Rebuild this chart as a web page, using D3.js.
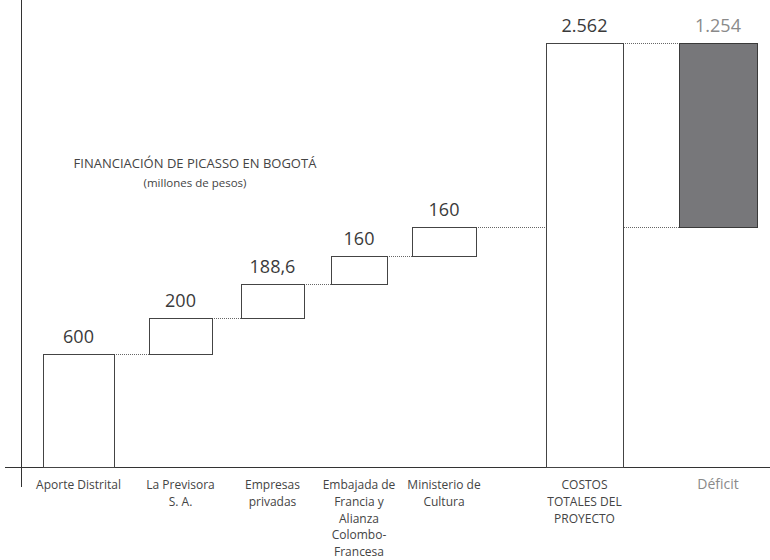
<!DOCTYPE html>
<html><head><meta charset="utf-8">
<script src="https://cdn.jsdelivr.net/npm/d3@7"></script>
<style>body{margin:0;background:#fff}svg{display:block}text{font-family:"Open Sans","Noto Sans",sans-serif}</style>
</head><body><svg id="c" width="770" height="560"></svg>
<script>
const categories = ["Aporte Distrital","La Previsora S. A.","Empresas privadas","Embajada de Francia y Alianza Colombo-Francesa","Ministerio de Cultura","COSTOS TOTALES DEL PROYECTO","Déficit"];
const labelLines = [["Aporte Distrital"],["La Previsora","S. A."],["Empresas","privadas"],["Embajada de","Francia y","Alianza","Colombo-","Francesa"],["Ministerio de","Cultura"],["COSTOS","TOTALES DEL","PROYECTO"],["Déficit"]];
const values = [600,200,188.6,160,160,2562,1254];
const valueLabels = ["600","200","188,6","160","160","2.562","1.254"];
const kinds = ["step","step","step","step","step","total","deficit"];

// compute waterfall starts/ends
let acc = 0;
const bars = categories.map((c,i)=>{
  let y0,y1;
  if(kinds[i]==="step"){y0=acc;y1=acc+values[i];acc=y1;}
  else if(kinds[i]==="total"){y0=0;y1=values[i];}
  else {y0=values[i-1]-values[i];y1=values[i-1];}
  return {c,i,y0,y1,label:valueLabels[i],kind:kinds[i],lines:labelLines[i]};
});
const stepsTotal = acc;

const svg = d3.select("#c");
const y = d3.scaleLinear().domain([0,values[0],stepsTotal,values[5]]).range([467,354,227,43]);
const xc = d3.scaleOrdinal().domain(categories).range([78.5,180.5,272.5,359,444,584.5,718]);
const bw = d3.scaleOrdinal().domain(categories).range([71,63,63,56,64,77,78]);

// axes
svg.append("line").attr("x1",21.5).attr("x2",21.5).attr("y1",0).attr("y2",487).attr("stroke","#333").attr("stroke-width",1);
svg.append("line").attr("x1",5).attr("x2",770).attr("y1",467.5).attr("y2",467.5).attr("stroke","#333").attr("stroke-width",1);

// connectors
const conns = [];
for(let i=0;i<6;i++){
  const a=bars[i];
  let target = i<4 ? bars[i+1] : bars[6];
  conns.push({x1:xc(a.c)+bw(a.c)/2, x2:xc(target.c)-bw(target.c)/2, v:a.y1});
}
svg.selectAll("line.conn").data(conns).join("line").attr("class","conn")
  .attr("x1",d=>d.x1).attr("x2",d=>d.x2).attr("y1",d=>Math.round(y(d.v))+0.5).attr("y2",d=>Math.round(y(d.v))+0.5)
  .attr("stroke","#666").attr("stroke-width",1).attr("stroke-dasharray","1,1");

// bars
svg.selectAll("rect.bar").data(bars).join("rect").attr("class","bar")
  .attr("x",d=>Math.round(xc(d.c)-bw(d.c)/2)+0.5)
  .attr("width",d=>bw(d.c))
  .attr("y",d=>Math.round(y(d.y1))+0.5)
  .attr("height",d=>Math.round(y(d.y0))-Math.round(y(d.y1)))
  .attr("fill",d=>d.kind==="deficit"?"#77777a":"#fff")
  .attr("stroke",d=>d.kind==="deficit"?"#3a3a3a":"#444").attr("stroke-width",1);

// value labels
svg.selectAll("text.val").data(bars).join("text").attr("class","val")
  .attr("x",d=>xc(d.c)).attr("y",d=>y(d.y1)-11)
  .attr("text-anchor","middle").attr("font-size",18)
  .attr("fill",d=>d.kind==="deficit"?"#8a8a8a":"#3a3a3a").text(d=>d.label);

// category labels
const cl = svg.selectAll("text.cat").data(bars).join("text").attr("class","cat")
  .attr("text-anchor","middle").attr("font-size",d=>d.kind==="deficit"?14:12)
  .attr("fill",d=>d.kind==="deficit"?"#8a8a8a":"#444");
cl.selectAll("tspan").data(d=>d.lines.map(t=>({t,x:xc(d.c)}))).join("tspan")
  .attr("x",d=>d.x).attr("y",(d,j)=>489+j*16.8).text(d=>d.t);

// title
svg.append("text").attr("x",195).attr("y",168).attr("text-anchor","middle").attr("font-size",13).attr("fill","#444").text("FINANCIACIÓN DE PICASSO EN BOGOTÁ");
svg.append("text").attr("x",195).attr("y",187).attr("text-anchor","middle").attr("font-size",11.5).attr("fill","#444").text("(millones de pesos)");
</script></body></html>
